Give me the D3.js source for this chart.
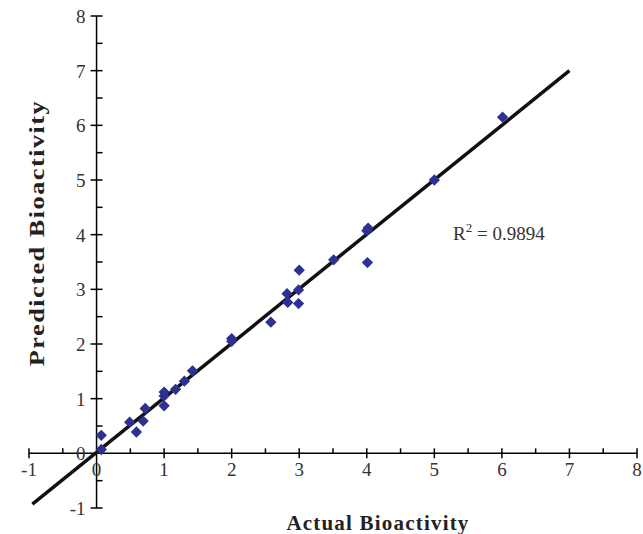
<!DOCTYPE html>
<html><head><meta charset="utf-8">
<script src="https://cdn.jsdelivr.net/npm/d3@7"></script>
<style>body{margin:0;background:#fff}svg{display:block}</style>
</head><body>
<script>
const actual =    [0.07,0.07,0.49,0.59,0.69,0.72,1.0,1.0,1.0,1.17,1.3,1.42,2.0,2.0,2.58,2.82,2.83,2.99,2.99,3.0,3.51,4.0,4.02,4.01,5.0,6.01];
const predicted = [0.33,0.07,0.57,0.39,0.59,0.82,1.12,1.05,0.87,1.17,1.32,1.51,2.1,2.05,2.4,2.92,2.76,2.99,2.74,3.35,3.54,4.07,4.12,3.49,5.0,6.15];
const trendX = [-0.95, 7.0];
const trendY = [-0.93, 7.0];
const xTicks = [-1,0,1,2,3,4,5,6,7,8];
const yTicks = [-1,0,1,2,3,4,5,6,7,8];
const r2Text = "0.9894";

const W=643,H=534;
const svg=d3.select("body").append("svg").attr("width",W).attr("height",H);
const x=d3.scaleLinear().domain([-1,8]).range([29,637]);
const y=d3.scaleLinear().domain([-1,8]).range([508,16]);
const font="'Liberation Serif','Times New Roman',serif";
const x0=x(0), y0=y(0);

// axes lines
svg.append("line").attr("x1",x(-1)).attr("x2",x(8)).attr("y1",y0).attr("y2",y0).attr("stroke","#000").attr("stroke-width",1.5);
svg.append("line").attr("x1",x0).attr("x2",x0).attr("y1",y(-1)).attr("y2",y(8)).attr("stroke","#000").attr("stroke-width",1.5);

// major ticks
const g=svg.append("g").attr("stroke","#000").attr("stroke-width",1.5);
xTicks.forEach(t=>{ if(t!==0) g.append("line").attr("x1",x(t)).attr("x2",x(t)).attr("y1",y0-5).attr("y2",y0+5);});
yTicks.forEach(t=>{ if(t!==0) g.append("line").attr("y1",y(t)).attr("y2",y(t)).attr("x1",x0-6).attr("x2",x0+6);});
// minor ticks
d3.range(-0.5,8,1).forEach(t=>{
  g.append("line").attr("x1",x(t)).attr("x2",x(t)).attr("y1",y0-5).attr("y2",y0);
  g.append("line").attr("y1",y(t)).attr("y2",y(t)).attr("x1",x0).attr("x2",x0+6);
});

// tick labels
svg.append("g").selectAll("text").data(xTicks).join("text")
  .attr("x",d=>x(d)).attr("y",y0+23).attr("text-anchor","middle")
  .attr("font-family",font).attr("font-size",19).attr("fill","#333").text(d=>d);
svg.append("g").selectAll("text").data(yTicks).join("text")
  .attr("x",x0-11).attr("y",d=>y(d)+7).attr("text-anchor","end")
  .attr("font-family",font).attr("font-size",19).attr("fill","#333").text(d=>d);

// trendline
svg.append("line").attr("x1",x(trendX[0])).attr("y1",y(trendY[0])).attr("x2",x(trendX[1])).attr("y2",y(trendY[1]))
  .attr("stroke","#111").attr("stroke-width",3.5);

// points
svg.append("g").selectAll("path").data(actual.map((a,i)=>[a,predicted[i]])).join("path")
  .attr("d",d3.symbol().type(d3.symbolSquare).size(64))
  .attr("transform",d=>`translate(${x(d[0])},${y(d[1])}) rotate(45)`)
  .attr("fill","#2e3192");

// R2 label
const rt=svg.append("text").attr("x",453).attr("y",240).attr("font-family",font).attr("font-size",19).attr("fill","#333");
rt.append("tspan").text("R");
rt.append("tspan").attr("dy",-8).attr("font-size",13).text("2");
rt.append("tspan").attr("dy",8).text(" = "+r2Text);

// axis titles
svg.append("text").attr("x",378).attr("y",530).attr("text-anchor","middle").attr("font-family",font)
  .attr("font-weight","bold").attr("font-size",21).attr("letter-spacing",1.2).attr("fill","#222").text("Actual Bioactivity");
svg.append("text").attr("transform","translate(44,233) rotate(-90) scale(1.25,1)").attr("text-anchor","middle").attr("font-family",font)
  .attr("font-weight","bold").attr("font-size",21).attr("letter-spacing",1.2).attr("fill","#222").text("Predicted Bioactivity");
</script>
</body></html>
